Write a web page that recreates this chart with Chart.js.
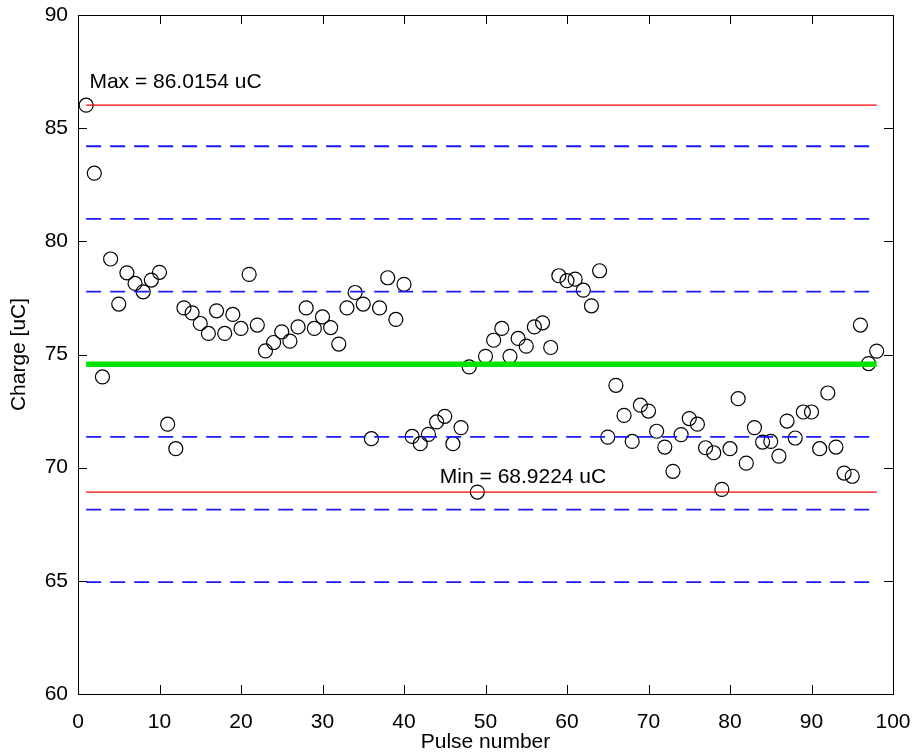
<!DOCTYPE html>
<html>
<head>
<meta charset="utf-8">
<script src="https://cdn.jsdelivr.net/npm/chart.js@4"></script>
<style>
  html, body { margin: 0; padding: 0; background: #ffffff; }
  canvas { display: block; }
</style>
</head>
<body>
<canvas id="c" width="913" height="756"></canvas>
<script>
// ---- data ----
const pulses = [1,2,3,4,5,6,7,8,9,10,11,12,13,14,15,16,17,18,19,20,
  21,22,23,24,25,26,27,28,29,30,31,32,33,34,35,36,37,38,39,40,
  41,42,43,44,45,46,47,48,49,50,51,52,53,54,55,56,57,58,59,60,
  61,62,63,64,65,66,67,68,69,70,71,72,73,74,75,76,77,78,79,80,
  81,82,83,84,85,86,87,88,89,90,91,92,93,94,95,96,97,98];
const charge = [86.0154,83.01,74.01,79.22,77.23,78.61,78.14,77.77,78.29,78.63,
  71.92,70.84,77.06,76.84,76.37,75.93,76.93,75.93,76.77,76.15,
  78.54,76.30,75.16,75.53,76.00,75.59,76.22,77.06,76.15,76.66,
  76.19,75.46,77.06,77.74,77.23,71.28,77.06,78.39,76.55,78.10,
  71.38,71.06,71.47,72.02,72.27,71.06,71.77,74.45,68.9224,74.92,
  75.63,76.15,74.92,75.71,75.37,76.22,76.40,75.31,78.48,78.26,
  78.33,77.84,77.15,78.70,71.35,73.64,72.31,71.16,72.76,72.50,
  71.61,70.91,69.84,71.46,72.17,71.92,70.88,70.66,69.04,70.84,
  73.05,70.20,71.77,71.13,71.16,70.51,72.06,71.31,72.46,72.46,
  70.84,73.30,70.91,69.76,69.62,76.30,74.60,75.15];
const meanValue = 74.57;
const sigmaLines = [84.20, 80.99, 77.78, 71.36, 68.15, 64.94];
const maxValue = 86.0154;
const minValue = 68.9224;
const lineRange = [1, 98];
const xTicks = [0,10,20,30,40,50,60,70,80,90,100];
const yTicks = [60,65,70,75,80,85,90];
const maxLabel = "Max = 86.0154 uC";
const minLabel = "Min = 68.9224 uC";
const maxLabelPos = [1.4, 86.77];
const minLabelPos = [44.4, 69.31];

const FONT = "'Liberation Sans', Arial, sans-serif";

function hLine(v, color, width, dash) {
  return {
    type: 'line',
    data: lineRange.map(x => ({x: x, y: v})),
    borderColor: color,
    borderWidth: width,
    borderDash: dash || [],
    pointRadius: 0,
    fill: false,
    tension: 0
  };
}

const datasets = [];
datasets.push(hLine(meanValue, '#00e400', 5.5));
datasets.push(hLine(maxValue, '#ff0000', 1.2));
datasets.push(hLine(minValue, '#ff0000', 1.2));
sigmaLines.forEach(v => datasets.push(hLine(v, '#1a1aff', 1.8, [15, 9])));
datasets.push({
  type: 'scatter',
  data: pulses.map((p, i) => ({x: p, y: charge[i]})),
  borderColor: '#000000',
  backgroundColor: 'rgba(0,0,0,0)',
  borderWidth: 1.2,
  pointRadius: 7,
  pointHoverRadius: 7,
  showLine: false
});

const boxPlugin = {
  id: 'box',
  afterDraw(chart) {
    const {ctx, chartArea: a, scales: {x, y}} = chart;
    ctx.save();
    ctx.strokeStyle = '#000';
    ctx.lineWidth = 1;
    ctx.beginPath();
    ctx.rect(Math.round(a.left) + 0.5, Math.round(a.top) + 0.5,
             Math.round(a.right - a.left), Math.round(a.bottom - a.top));
    ctx.stroke();
    const L = 9;
    ctx.beginPath();
    xTicks.forEach(t => {
      const px = Math.round(x.getPixelForValue(t)) + 0.5;
      ctx.moveTo(px, a.bottom); ctx.lineTo(px, a.bottom - L);
      ctx.moveTo(px, a.top); ctx.lineTo(px, a.top + L);
    });
    yTicks.forEach(t => {
      const py = Math.round(y.getPixelForValue(t)) + 0.5;
      ctx.moveTo(a.left, py); ctx.lineTo(a.left + L, py);
      ctx.moveTo(a.right, py); ctx.lineTo(a.right - L, py);
    });
    ctx.stroke();
    ctx.fillStyle = '#000';
    ctx.font = "21px " + FONT;
    ctx.textAlign = 'left';
    ctx.textBaseline = 'alphabetic';
    ctx.fillText(maxLabel, x.getPixelForValue(maxLabelPos[0]), y.getPixelForValue(maxLabelPos[1]));
    ctx.fillText(minLabel, x.getPixelForValue(minLabelPos[0]), y.getPixelForValue(minLabelPos[1]));
    ctx.restore();
  }
};

new Chart(document.getElementById('c'), {
  data: { datasets: datasets },
  options: {
    responsive: false,
    devicePixelRatio: 1,
    animation: false,
    layout: { padding: { top: 15, right: 20, left: 0, bottom: 0 } },
    plugins: { legend: { display: false }, tooltip: { enabled: false } },
    scales: {
      x: {
        type: 'linear', min: 0, max: 100,
        afterFit: s => { s.height = 62; s.paddingLeft = 0; s.paddingRight = 0; },
        afterBuildTicks: s => { s.ticks = xTicks.map(v => ({value: v})); },
        ticks: { color: '#000', font: { family: FONT, size: 21 }, padding: 16, maxRotation: 0, autoSkip: false },
        grid: { drawOnChartArea: false, drawTicks: false },
        border: { display: true, color: '#000', width: 1 },
        title: { display: true, text: 'Pulse number', color: '#000', font: { family: FONT, size: 21 }, padding: { top: 0, bottom: 1 } }
      },
      y: {
        type: 'linear', min: 60, max: 90,
        afterFit: s => { s.width = 78; s.paddingTop = 0; s.paddingBottom = 0; },
        afterBuildTicks: s => { s.ticks = yTicks.map(v => ({value: v})); },
        ticks: { color: '#000', font: { family: FONT, size: 21 }, padding: 10, autoSkip: false },
        grid: { drawOnChartArea: false, drawTicks: false },
        border: { display: true, color: '#000', width: 1 },
        title: { display: true, text: 'Charge [uC]', color: '#000', font: { family: FONT, size: 21 }, padding: { top: 7, bottom: 0 } }
      }
    }
  },
  plugins: [boxPlugin]
});
</script>
</body>
</html>
